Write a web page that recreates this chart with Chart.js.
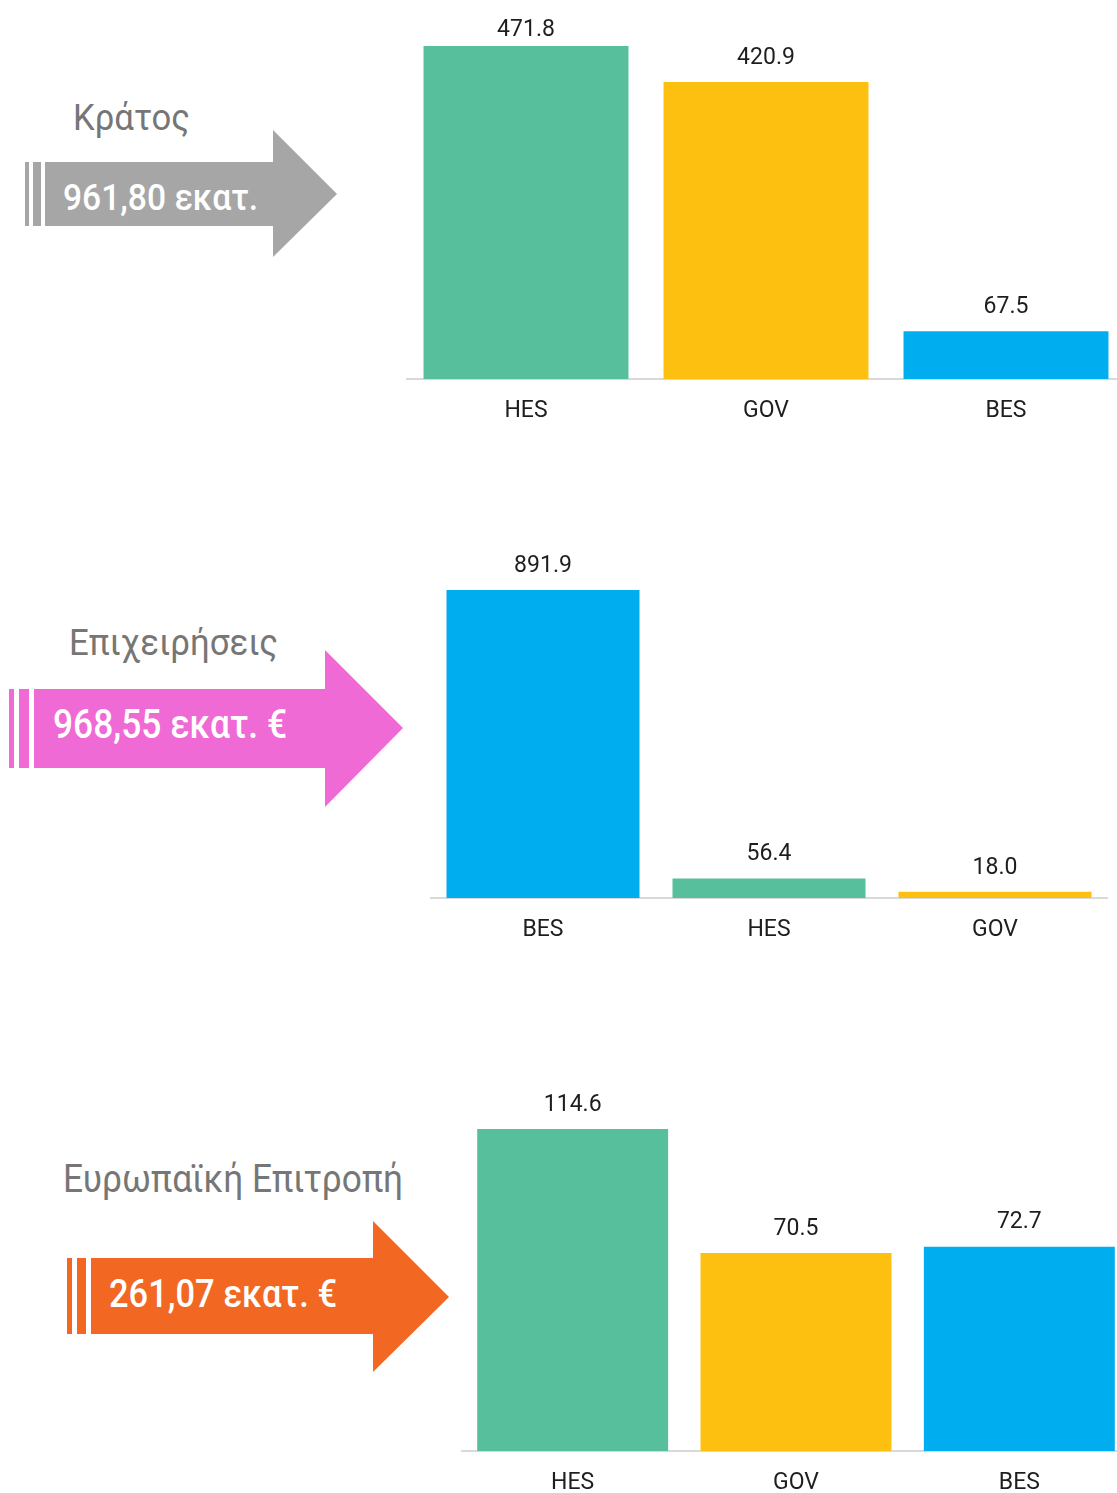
<!DOCTYPE html>
<html>
<head>
<meta charset="utf-8">
<script src="https://cdn.jsdelivr.net/npm/chart.js@4.4.1/dist/chart.umd.min.js"></script>
<style>
  html, body { margin:0; padding:0; background:#fff; width:1117px; height:1493px; overflow:hidden; position:relative; }
  canvas { position:absolute; }
  svg { position:absolute; left:0; top:0; }
  .t { font-family: Roboto, "Noto Sans", sans-serif; }
</style>
</head>
<body>
<svg width="1117" height="1493" class="t">
  <!-- Κράτος -->
  <text x="73" y="130" font-size="36" fill="#767676" textLength="117" lengthAdjust="spacingAndGlyphs">Κράτος</text>
  <rect x="25" y="162" width="4" height="64" fill="#a6a6a6"/>
  <rect x="33" y="162" width="8" height="64" fill="#a6a6a6"/>
  <polygon points="45,162 273,162 273,130 337,194 273,257 273,226 45,226" fill="#a6a6a6"/>
  <text x="63" y="210" font-size="37" font-weight="500" fill="#ffffff" textLength="195" lengthAdjust="spacingAndGlyphs">961,80 εκατ.</text>

  <!-- Επιχειρήσεις -->
  <text x="69" y="655" font-size="36" fill="#767676" textLength="209" lengthAdjust="spacingAndGlyphs">Επιχειρήσεις</text>
  <rect x="9" y="689" width="5" height="79" fill="#f06ad6"/>
  <rect x="19" y="689" width="10" height="79" fill="#f06ad6"/>
  <polygon points="34,689 325,689 325,650 403,728 325,807 325,768 34,768" fill="#f06ad6"/>
  <text x="53" y="738" font-size="40" font-weight="500" fill="#ffffff" textLength="234" lengthAdjust="spacingAndGlyphs">968,55 εκατ. €</text>

  <!-- Ευρωπαϊκή Επιτροπή -->
  <text x="63" y="1192" font-size="39" fill="#767676" textLength="340" lengthAdjust="spacingAndGlyphs">Ευρωπαϊκή Επιτροπή</text>
  <rect x="67" y="1258" width="5" height="76" fill="#f26722"/>
  <rect x="77" y="1258" width="9" height="76" fill="#f26722"/>
  <polygon points="91,1258 373,1258 373,1221 449,1297 373,1372 373,1334 91,1334" fill="#f26722"/>
  <text x="109" y="1307" font-size="38" font-weight="500" fill="#ffffff" textLength="228" lengthAdjust="spacingAndGlyphs">261,07 εκατ. €</text>
</svg>

<canvas id="c1" width="720" height="430" style="left:406px; top:0px;"></canvas>
<canvas id="c2" width="678" height="419" style="left:430px; top:530px;"></canvas>
<canvas id="c3" width="670" height="423" style="left:461px; top:1070px;"></canvas>

<script>
const GREEN = '#57bf9b', YELLOW = '#fec010', BLUE = '#00aeef';

const categoriesState = ['HES', 'GOV', 'BES'];
const valuesState = [471.8, 420.9, 67.5];
const colorsState = [GREEN, YELLOW, BLUE];

const categoriesBusiness = ['BES', 'HES', 'GOV'];
const valuesBusiness = [891.9, 56.4, 18.0];
const colorsBusiness = [BLUE, GREEN, YELLOW];

const categoriesEU = ['HES', 'GOV', 'BES'];
const valuesEU = [114.6, 70.5, 72.7];
const colorsEU = [GREEN, YELLOW, BLUE];

const FONT = 'Roboto, "Noto Sans", sans-serif';

const valueLabels = {
  id: 'valueLabels',
  afterDatasetsDraw(chart) {
    const ctx = chart.ctx;
    const meta = chart.getDatasetMeta(0);
    const ds = chart.data.datasets[0];
    ctx.save();
    ctx.font = '23px ' + FONT;
    ctx.fillStyle = '#1e1e1e';
    ctx.textAlign = 'center';
    ctx.textBaseline = 'middle';
    meta.data.forEach((bar, i) => {
      const y = Math.max(bar.y - 24, 30);
      ctx.fillText(ds.data[i].toFixed(1), bar.x, y);
    });
    ctx.restore();
  }
};

function makeChart(id, labels, values, colors, padTop, axisH, barPct) {
  new Chart(document.getElementById(id), {
    type: 'bar',
    data: {
      labels: labels,
      datasets: [{ data: values, backgroundColor: colors, borderWidth: 0,
                   barPercentage: barPct, categoryPercentage: 1.0, minBarLength: 5 }]
    },
    options: {
      responsive: false,
      animation: false,
      events: [],
      layout: { padding: { top: padTop, left: 0, right: 0, bottom: 0 } },
      plugins: { legend: { display: false }, tooltip: { enabled: false } },
      scales: {
        x: {
          grid: { display: false, drawTicks: false },
          border: { display: true, color: '#d9d9d9', width: 2 },
          ticks: { font: { size: 23, family: FONT }, color: '#1e1e1e', padding: 18 },
          afterFit(scale) { scale.height = axisH; }
        },
        y: {
          display: false,
          min: 0,
          max: Math.max.apply(null, values)
        }
      }
    },
    plugins: [valueLabels]
  });
}

makeChart('c1', categoriesState, valuesState, colorsState, 46, 51, 0.854);
makeChart('c2', categoriesBusiness, valuesBusiness, colorsBusiness, 60, 51, 0.854);
makeChart('c3', categoriesEU, valuesEU, colorsEU, 59, 42, 0.855);
</script>
</body>
</html>
